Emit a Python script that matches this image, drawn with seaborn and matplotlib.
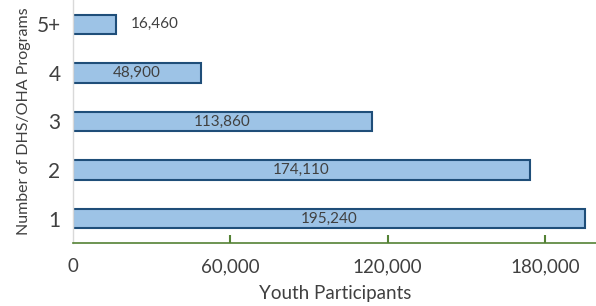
import pandas as pd
import matplotlib.pyplot as plt
import seaborn as sns

programs = ['5+', '4', '3', '2', '1']
participants = [16460, 48900, 113860, 174110, 195240]
value_labels = ['16,460', '48,900', '113,860', '174,110', '195,240']
x_ticks = [0, 60000, 120000, 180000]
x_tick_labels = ['0', '60,000', '120,000', '180,000']

sns.set_style('white')
plt.rcParams['font.family'] = ['Lato', 'DejaVu Sans']
plt.rcParams['xtick.bottom'] = True

df = pd.DataFrame({'programs': programs, 'participants': participants})

fig = plt.figure(figsize=(5.96, 3.06), dpi=100)
ax = fig.add_axes([0.1225, 0.206, 0.88, 0.794])

sns.barplot(data=df, x='participants', y='programs', order=programs, orient='h',
            color='#9DC3E6', edgecolor='#1F4E79', linewidth=1.5, width=0.4,
            saturation=1, ax=ax)

text_col = '#404040'
for i, (v, lab) in enumerate(zip(participants, value_labels)):
    if v < 30000:
        ax.text(v + 5500, i, lab, ha='left', va='center', fontsize=11, color=text_col)
    else:
        ax.text(v / 2, i, lab, ha='center', va='center', fontsize=11, color=text_col)

ax.set_xlim(0, 200000)
ax.set_ylim(4.5, -0.5)
ax.set_xticks(x_ticks)
ax.set_xticklabels(x_tick_labels, fontsize=13.5, color=text_col)
ax.xaxis.set_ticks_position('bottom')
ax.tick_params(axis='y', labelsize=15, labelcolor=text_col, length=0, pad=9)
ax.tick_params(axis='x', bottom=True, direction='in', length=6, color='#548235',
               width=1.5, pad=11)
ax.xaxis.get_major_ticks()[0].tick1line.set_visible(False)

for s in ['top', 'right']:
    ax.spines[s].set_visible(False)
ax.spines['bottom'].set_color('#548235')
ax.spines['bottom'].set_linewidth(1.2)
ax.spines['left'].set_color('#D9D9D9')
ax.spines['left'].set_linewidth(1.0)

ax.set_xlabel('Youth Participants', fontsize=13.5, color=text_col, labelpad=7)
ax.set_ylabel('Number of DHS/OHA Programs', fontsize=11.5, color=text_col, labelpad=4)

fig.savefig('out.png', dpi=100)
